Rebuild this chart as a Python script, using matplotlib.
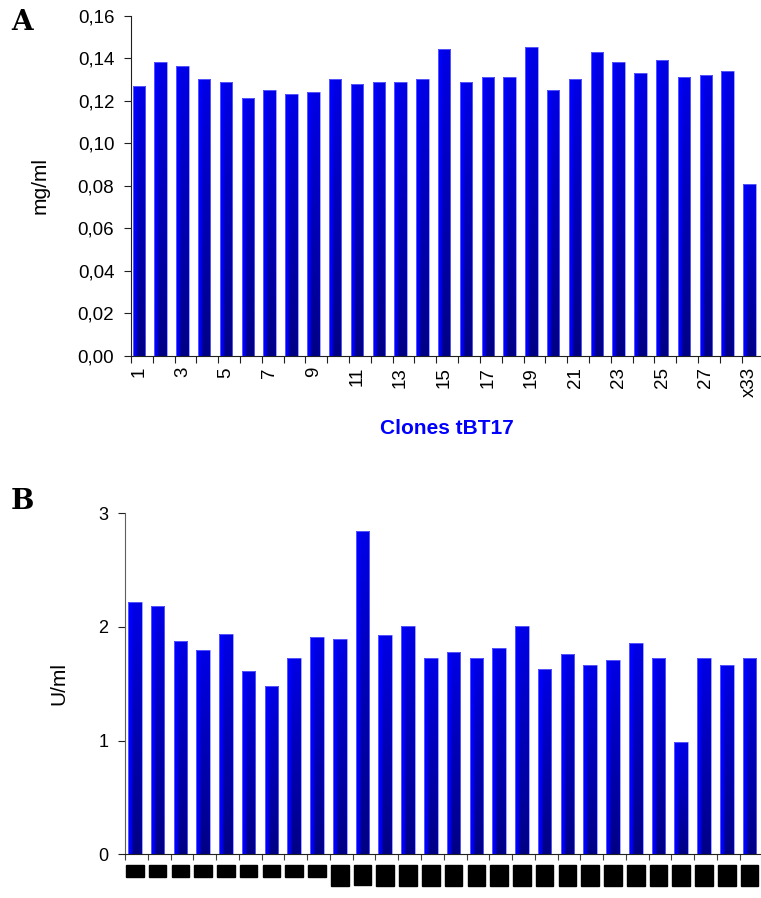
import numpy as np
import matplotlib
matplotlib.use("Agg")
import matplotlib.pyplot as plt
from matplotlib.ticker import FuncFormatter, FixedLocator

plt.rcParams['font.family'] = ['Liberation Sans', 'DejaVu Sans']

# panel A - protein, clones tBT17
a_labels = [str(i) for i in range(1, 29)] + ['x33']
a_vals = [0.1269, 0.1384, 0.1366, 0.1304, 0.1288, 0.1216, 0.1252, 0.1234, 0.1241,
          0.1304, 0.1278, 0.1288, 0.1288, 0.1304, 0.1445, 0.1288, 0.1313, 0.1313,
          0.1454, 0.1252, 0.1304, 0.1429, 0.1384, 0.1332, 0.1393, 0.1313, 0.1321,
          0.1340, 0.0809]

# panel B - activity
b_labels = [str(i) for i in range(1, 29)]
b_vals = [2.217, 2.188, 1.874, 1.795, 1.941, 1.613, 1.481, 1.727, 1.909, 1.892,
          2.844, 1.927, 2.006, 1.727, 1.777, 1.727, 1.813, 2.006, 1.628, 1.760,
          1.663, 1.710, 1.857, 1.727, 0.986, 1.727, 1.663, 1.727]


def shade(ax, bars):
    # excel style gradient: bright left strip, darker to the right and to the bottom
    u = np.linspace(0, 1, 32)
    t = np.linspace(0, 1, 64)[:, None]
    s = np.clip((u - 0.18) / 0.22, 0, 1)
    s = np.where(u > 0.92, s * 0.8, s)
    v = 0.2 + 0.8 * t
    d = s[None, :] * v
    img = np.zeros((64, 32, 3))
    img[..., 2] = 1 - 0.48 * d
    for r in bars:
        x0, w, h = r.get_x(), r.get_width(), r.get_height()
        im = ax.imshow(img, extent=[x0, x0 + w, 0, h], aspect='auto',
                       interpolation='bilinear', zorder=2)
        im.set_clip_path(r)


def style(ax, fs):
    for side in ['top', 'right']:
        ax.spines[side].set_visible(False)
    for side in ['left', 'bottom']:
        ax.spines[side].set_linewidth(0.8)
        ax.spines[side].set_color('#202020')
    ax.tick_params(axis='y', direction='out', length=5, width=0.8, pad=7,
                   labelsize=fs, color='#202020')


fig = plt.figure(figsize=(7.61, 8.98), dpi=100)

# ---- A ----
ax1 = fig.add_axes([0.1721, 0.6036, 0.8311, 0.3786])
xa = np.arange(len(a_vals))
bars = ax1.bar(xa, a_vals, width=0.57, facecolor='none', edgecolor='#7a7aff',
               linewidth=0.5, zorder=3)
shade(ax1, bars)
ax1.set_xlim(-0.36, len(a_vals) - 0.36)
ax1.set_ylim(0, 0.16)
ax1.set_yticks(np.arange(0, 0.161, 0.02))
ax1.yaxis.set_major_formatter(FuncFormatter(lambda v, p: f"{v:.2f}".replace('.', ',')))
style(ax1, 13.5)
ax1.set_xticks(xa[::2])
ax1.set_xticklabels(a_labels[::2], rotation=90, fontsize=13.5)
ax1.tick_params(axis='x', length=0, pad=8)
ax1.xaxis.set_minor_locator(FixedLocator(xa - 0.36))
ax1.tick_params(axis='x', which='minor', direction='out', length=5, width=0.8,
                color='#202020')
ax1.set_ylabel('mg/ml', fontsize=15)
ax1.yaxis.set_label_coords(-0.128, 0.5)
ax1.set_xlabel('Clones tBT17', fontsize=15, fontweight='bold', color='#0000ff')
ax1.xaxis.set_label_coords(0.5, -0.212)
ax1.xaxis.label.set_va('center')
fig.text(11 / 761, 1 - 22 / 898, 'A', fontsize=20, fontweight='bold',
         family='DejaVu Serif', va='center', ha='left')

# ---- B ----
ax2 = fig.add_axes([0.1643, 0.0486, 0.8377, 0.3799])
xb = np.arange(len(b_vals))
bars = ax2.bar(xb, b_vals, width=0.6, facecolor='none', edgecolor='#7a7aff',
               linewidth=0.5, zorder=3)
shade(ax2, bars)
ax2.set_xlim(-0.43, len(b_vals) - 0.43)
ax2.set_ylim(0, 3)
ax2.set_yticks([0, 1, 2, 3])
style(ax2, 13)
ax2.spines['left'].set_color('#606060')
ax2.set_xticks(xb)
ax2.set_xticklabels(b_labels, rotation=90, fontsize=11, color='black',
                    fontweight='bold')
for lab in ax2.get_xticklabels():
    lab.set_bbox(dict(boxstyle='square,pad=0.12', facecolor='black',
                      edgecolor='black'))
ax2.tick_params(axis='x', length=0, pad=9)
ax2.xaxis.set_minor_locator(FixedLocator(xb - 0.43))
ax2.tick_params(axis='x', which='minor', direction='out', length=4, width=0.8,
                color='#404040')
ax2.set_ylabel('U/ml', fontsize=15)
ax2.yaxis.set_label_coords(-0.089, 0.5)
fig.text(11 / 761, 1 - 502 / 898, 'B', fontsize=20, fontweight='bold',
         family='DejaVu Serif', va='center', ha='left')

fig.savefig('out.png', dpi=100)
